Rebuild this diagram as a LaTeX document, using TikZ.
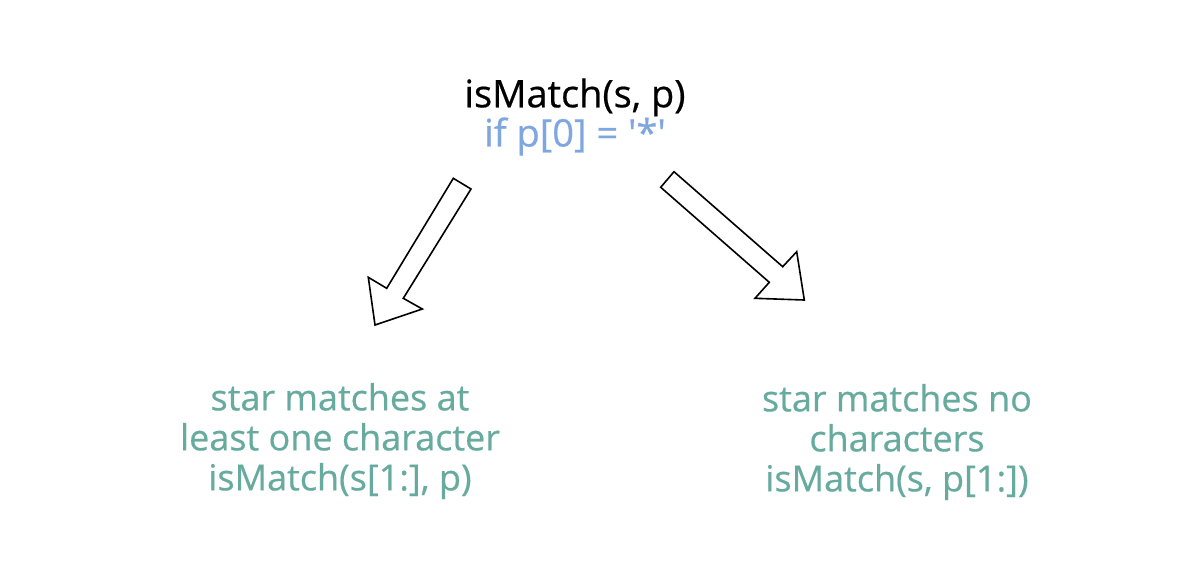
\documentclass[tikz,border=0pt]{standalone}
\usepackage{fontspec}
\setmainfont{Open Sans}[FakeBold=0.5]
\definecolor{txtblue}{HTML}{7EA6E0}
\definecolor{txtteal}{HTML}{67AB9F}
\tikzset{
  lbl/.style={align=center, inner sep=0pt, font=\fontsize{36}{40}\selectfont},
  blockarrow/.style={draw=black, line width=1.6pt, fill=white, line join=miter},
}
\begin{document}
\begin{tikzpicture}[x=1pt,y=-1pt]
\useasboundingbox (0,0) rectangle (1188,582);
\node[lbl, font=\fontsize{38}{38}\selectfont] (top) at (575,117) {isMatch(s, p)\\\textcolor{txtblue}{if p[0] = \textquotesingle*\textquotesingle}};
\node[lbl, text=txtteal] (left) at (340,441) {star matches at\\least one character\\isMatch(s[1:], p)};
\node[lbl, text=txtteal] (right) at (897,442) {star matches no\\characters\\isMatch(s, p[1:])};
% left block arrow
\coordinate (l1) at (453.3,178.3);
\coordinate (l2) at (471,189);
\coordinate (l3) at (403.3,298.3);
\coordinate (l4) at (422.3,309);
\coordinate (l5) at (375,325);
\coordinate (l6) at (368.3,277.3);
\coordinate (l7) at (386.7,288.3);
\draw[blockarrow] (l1) -- (l2) -- (l3) -- (l4) -- (l5) -- (l6) -- (l7) -- cycle;
% right block arrow
\coordinate (r1) at (660.7,187.3);
\coordinate (r2) at (674,171.7);
\coordinate (r3) at (782.7,266.7);
\coordinate (r4) at (796.7,251.7);
\coordinate (r5) at (804.3,300);
\coordinate (r6) at (755,298.3);
\coordinate (r7) at (769.3,282.3);
\draw[blockarrow] (r1) -- (r2) -- (r3) -- (r4) -- (r5) -- (r6) -- (r7) -- cycle;
\end{tikzpicture}
\end{document}
